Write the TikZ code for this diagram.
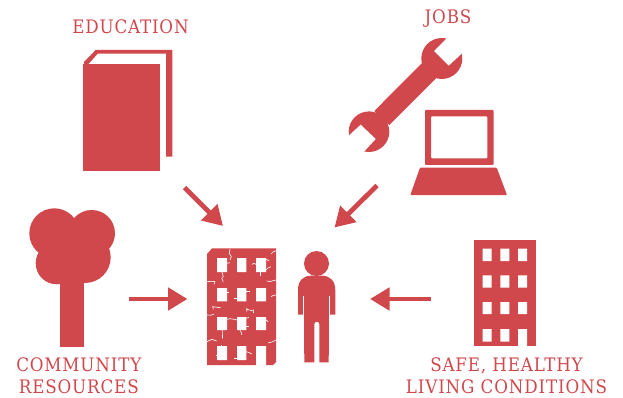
\documentclass[tikz,border=0pt]{standalone}
\usepackage{fontspec}
\setmainfont[LetterSpace=4.5]{DejaVu Serif Condensed}
\usetikzlibrary{arrows.meta}
\definecolor{brick}{HTML}{D0474C}
\tikzset{
    label text/.style={anchor=base, text=brick, font=\fontsize{18.6}{22}\selectfont},
    icon/.style={fill=brick},
    gap/.style={fill=white},
    crack/.style={draw=white, line width=0.65pt},
    pointer/.style={draw=brick, line width=4.8pt, -{Triangle[length=19.5pt,width=22pt]}},
}

\begin{document}
\begin{tikzpicture}[x=1pt, y=-1pt]
    \useasboundingbox (0,0) rectangle (623,398);

    % labels
    \node [label text] (education) at (130.5, 34) {EDUCATION};
    \node [label text] (jobs) at (448, 24) {JOBS};
    \node [label text] (community) at (78.8, 371) {COMMUNITY};
    \node [label text] (resources) at (78.8, 393.8) {RESOURCES};
    \node [label text] (safe) at (506.5, 371) {SAFE, HEALTHY};
    \node [label text] (living) at (506.5, 393.8) {LIVING CONDITIONS};

    % book
    \fill [icon] (83,64) rectangle (160,171.3);
    \fill [icon] (84,62) -- (95.7,50) -- (172.3,50) -- (172.3,156.7) -- (166,156.7) -- (166,53.7)
        -- (97.7,53.7) -- (88.5,64) -- (84,64) -- cycle;

    % wrench
    \fill [icon] (441.8,58.5) circle (20.5);
    \fill [icon] (369,131.7) circle (20.3);
    \fill [icon] (421.7,63.3) -- (436,78.3) -- (389.3,125) -- (374.3,111) -- cycle;
    \fill [gap] (446,39) -- (434,51) -- (448.7,65.7) -- (461.3,54) -- (470,40) -- (450,30) -- cycle;
    \fill [gap] (348.3,136) -- (360.7,124.7) -- (375.7,139) -- (364,151.7) -- (352,160) -- (340,145) -- cycle;

    % laptop
    \fill [icon, even odd rule, rounded corners=0.8pt] (425,110) rectangle (493.5,165)
        (431,116.3) rectangle (487.3,158.3);
    \fill [icon, rounded corners=0.8pt] (420,167.7) -- (496.7,167.7) -- (507,195) -- (410.3,195) -- cycle;

    % tree
    \fill [icon] (54.3,233.3) circle (25);
    \fill [icon] (91.7,233.3) circle (23.3);
    \fill [icon] (56.7,263.3) circle (21);
    \fill [icon] (85,257.3) circle (25.7);
    \fill [icon] (60,225) rectangle (84,346.7);

    % cracked building
    \fill [icon] (207,254) -- (212,248.3) -- (276,248.3) -- (276,362) -- (273,365) -- (207,365) -- cycle;
    \fill [gap] (217,258) rectangle (227,272) (237,258) rectangle (246.3,272) (256,258) rectangle (266,272);
    \fill [gap] (217,288) rectangle (227,301.3) (237,288) rectangle (246.3,301.3) (256,288) rectangle (266,301.3);
    \fill [gap] (217,317) rectangle (227,330) (237,317) rectangle (246.3,330) (256,317) rectangle (266,330);
    \fill [gap] (217,346) rectangle (227,360) (237,346) rectangle (246.3,360) (256,346) rectangle (266,365.5);

    % cracks, row by row
    \draw [crack] (230,249) -- (229.3,253.3) -- (231.3,256.7) -- (230,260);
    \draw [crack] (271,254) -- (273,252) -- (276,250.7);
    \draw [crack] (227,263.3) -- (230,262.7);
    \draw [crack] (222,272) -- (223.3,276.7) -- (221.7,278.3) -- (223.3,281.7);
    \draw [crack] (251.7,264.3) -- (254,263.5) -- (256,264.3);
    \draw [crack] (266,259.3) -- (269.3,260.7);
    \draw [crack] (266,270) -- (268,268) -- (270.7,266.7);
    \draw [crack] (260.7,272) -- (260.7,276);
    \draw [crack] (207,281.7) -- (212,281.3) -- (215,281.7) -- (214,284.3);
    \draw [crack] (266.7,281) -- (270,281.5) -- (276,280);
    \draw [crack] (227,292.3) -- (229.3,292.3);
    \draw [crack] (246.3,291) -- (250,291);
    \draw [crack] (234.3,298.3) -- (237,298.3);
    \draw [crack] (271,296.7) -- (273,295.5) -- (276,295);
    \draw [crack] (212.7,306.7) -- (220.7,307.7);
    \draw [crack] (212.7,306) -- (213.3,309.3);
    \draw [crack] (246.7,309.3) -- (253.3,311);
    \draw [crack] (246.7,308) -- (246.9,312);
    \draw [crack] (253.3,309.5) -- (253.5,313);
    \draw [crack] (207,315) -- (211,315.2) -- (214,314);
    \draw [crack] (227,319.3) -- (230,318.7) -- (234.3,319.3);
    \draw [crack] (234.3,319.3) -- (237,320);
    \draw [crack] (246.3,318.3) -- (249,317.3);
    \draw [crack] (246.3,326.7) -- (249,326.7);
    \draw [crack] (240,330) -- (241.5,333) -- (241.7,335);
    \draw [crack] (266,320) -- (268.3,321.7);
    \draw [crack] (222.3,330) -- (222.5,338.3);
    \draw [crack] (207,341.7) -- (211.7,339.3) -- (216.7,341);
    \draw [crack] (268.3,342.7) -- (272,342) -- (276,340);
    \draw [crack] (215.7,355) -- (217,355);
    \draw [crack] (221.7,345) -- (221.7,346.7);
    \draw [crack] (246.3,351.7) -- (249,352.5) -- (251.7,354);
    \draw [crack] (234.3,358.3) -- (237,358.3);

    % person
    \fill [icon] (316.5,263.5) circle (12.5);
    \fill [icon] (298,314.7) -- (298,290) .. controls (298,281) and (303,275.7) .. (311,275.7)
        -- (322,275.7) .. controls (330,275.7) and (335.3,281) .. (335.3,290) -- (335.3,314.7)
        -- (329,314.7) -- (328.7,362.3) -- (319.3,362.3) -- (319.3,324)
        .. controls (319.3,321) and (314.3,321) .. (314.3,324)
        -- (314.3,362.3) -- (304.3,362.3) -- (304,314.7) -- cycle;
    \draw [crack] (303.6,296) -- (303.6,314.7);
    \draw [crack] (329,296) -- (329,314.7);

    % office building
    \fill [icon] (474,240) rectangle (536,346);
    \fill [gap] (482.7,248.7) rectangle (491.7,261) (500.3,248.7) rectangle (509.3,261) (518,248.7) rectangle (527,261);
    \fill [gap] (482.7,275.3) rectangle (491.7,287.7) (500.3,275.3) rectangle (509.3,287.7) (518,275.3) rectangle (527,287.7);
    \fill [gap] (482.7,302) rectangle (491.7,314) (500.3,302) rectangle (509.3,314) (518,302) rectangle (527,314);
    \fill [gap] (482.7,329) rectangle (491.7,341.7) (500.3,329) rectangle (509.3,341.7) (518,329) rectangle (527,346.5);

    % arrows
    \coordinate (book tail) at (184.5,187.5);
    \coordinate (book tip) at (223,226);
    \coordinate (tools tail) at (377,185.5);
    \coordinate (tools tip) at (334.5,227.5);
    \coordinate (tree tail) at (128.5,299);
    \coordinate (tree tip) at (187.5,299);
    \coordinate (house tail) at (431,299);
    \coordinate (house tip) at (370,299);
    \draw [pointer] (book tail) -- (book tip);
    \draw [pointer] (tools tail) -- (tools tip);
    \draw [pointer] (tree tail) -- (tree tip);
    \draw [pointer] (house tail) -- (house tip);
\end{tikzpicture}
\end{document}
